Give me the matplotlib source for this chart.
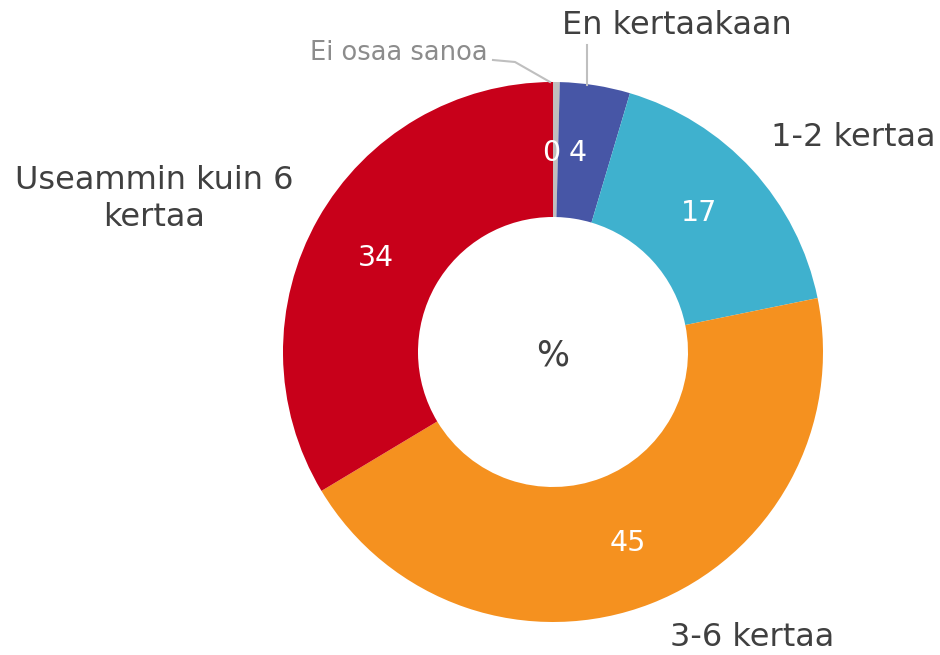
import matplotlib
matplotlib.use("Agg")
import matplotlib.pyplot as plt
import numpy as np

categories = ["Ei osaa sanoa", "En kertaakaan", "1-2 kertaa", "3-6 kertaa", "Useammin kuin 6\nkertaa"]
values = [0.4, 4.2, 17.2, 44.6, 33.6]
value_labels = ["0", "4", "17", "45", "34"]
colors = ["#BFBFBF", "#4756A6", "#3FB1CE", "#F5911F", "#C8001A"]

fig = plt.figure(figsize=(9.4, 6.55), dpi=100)
ax = fig.add_axes([0, 0, 1, 1])

cx, cy, R = 553, 303, 270
wedges, _ = ax.pie(values, colors=colors, startangle=90, counterclock=False,
                   radius=R, center=(cx, cy), frame=True,
                   wedgeprops=dict(width=R * 0.5, edgecolor="none", linewidth=0))
ax.set_xlim(0, 940)
ax.set_ylim(0, 655)
ax.set_aspect("equal")
ax.axis("off")

# value labels
label_pos = [(551, 502), (578, 502), (699, 442), (628, 112), (376, 397)]
for (x, y), t in zip(label_pos, value_labels):
    ax.text(x, y, t, color="white", fontsize=20.5, ha="center", va="center")

dark = "#404040"
ax.text(677, 630, categories[1], color=dark, fontsize=23, ha="center", va="center")
ax.text(853, 517, categories[2], color=dark, fontsize=23, ha="center", va="center")
ax.text(752, 18, categories[3], color=dark, fontsize=23, ha="center", va="center")
ax.text(154, 456, categories[4], color=dark, fontsize=23, ha="center", va="center",
        linespacing=1.25)
ax.text(399, 602, categories[0], color="#8C8C8C", fontsize=18.5, ha="center", va="center")

# leader lines
ax.plot([493, 515, 550], [595, 593, 573], color="#BFBFBF", lw=1.5)
ax.plot([587, 587], [610, 570], color="#BFBFBF", lw=1.5)

ax.text(cx, cy - 4, "%", color=dark, fontsize=25, ha="center", va="center")

fig.savefig("out.png", dpi=100)
